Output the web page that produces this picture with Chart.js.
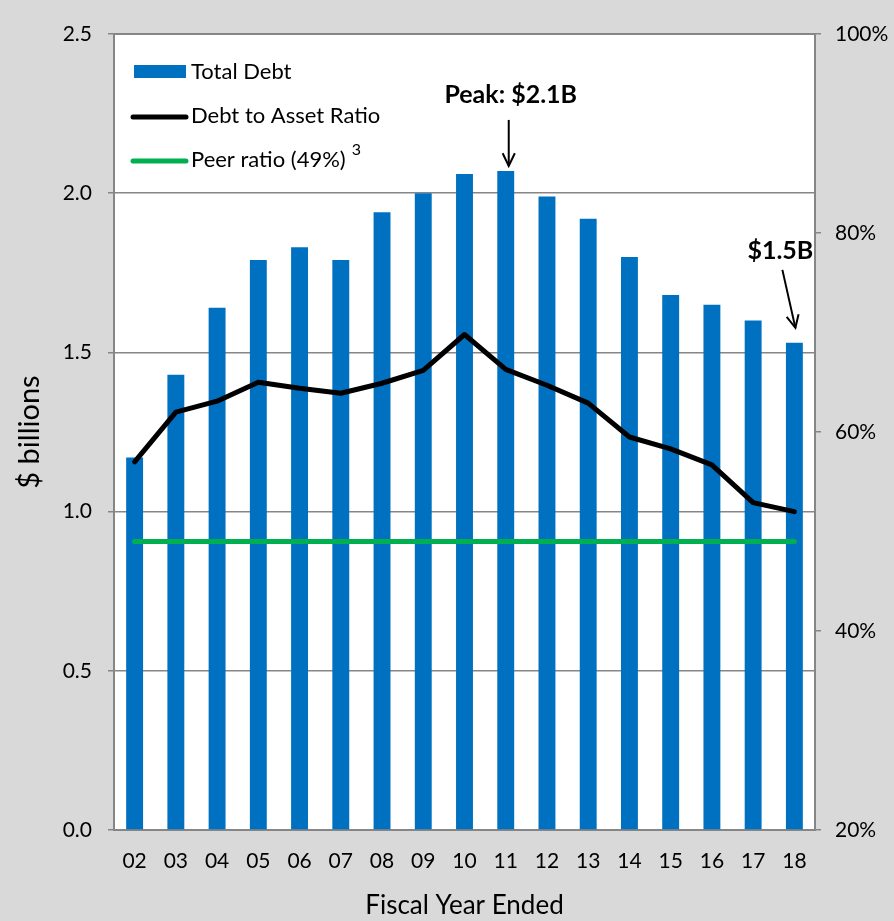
<!DOCTYPE html>
<html>
<head>
<meta charset="utf-8">
<script src="https://cdn.jsdelivr.net/npm/chart.js@4"></script>
<style>
  html, body { margin: 0; padding: 0; background: #d9d9d9; }
  #wrap { width: 894px; height: 921px; }
</style>
</head>
<body>
<div id="wrap"><canvas id="debt-chart"></canvas></div>
<script>
// Data

const years = ['02', '03', '04', '05', '06', '07', '08', '09', '10', '11', '12', '13', '14', '15', '16', '17', '18'];
const totalDebt = [1.17, 1.43, 1.64, 1.79, 1.83, 1.79, 1.94, 2.00, 2.06, 2.07, 1.99, 1.92, 1.80, 1.68, 1.65, 1.60, 1.53];
const debtToAsset = [57.0, 62.0, 63.1, 65.0, 64.4, 63.9, 64.9, 66.2, 69.8, 66.3, 64.7, 62.9, 59.5, 58.3, 56.7, 52.9, 52.0];
const peerRatio = [49, 49, 49, 49, 49, 49, 49, 49, 49, 49, 49, 49, 49, 49, 49, 49, 49];
const debtTicks = [0, 0.5, 1.0, 1.5, 2.0, 2.5];
const ratioTicks = [20, 40, 60, 80, 100];

const FONT = 'Lato, "Open Sans", sans-serif';
const GRAY = '#868686';

// Background, plot border, legend and arrows

const chartDecor = {
    id: 'chartDecor',
    beforeDraw(chart) {
        const {ctx, chartArea: a} = chart;
        ctx.save();
        ctx.fillStyle = '#d9d9d9';
        ctx.fillRect(0, 0, chart.width, chart.height);
        ctx.fillStyle = '#ffffff';
        ctx.fillRect(a.left, a.top, a.right - a.left, a.bottom - a.top);
        ctx.strokeStyle = GRAY;
        ctx.lineWidth = 2;
        ctx.strokeRect(a.left, a.top, a.right - a.left, a.bottom - a.top);
        ctx.restore();
    },
    afterDraw(chart) {
        const {ctx, chartArea: a} = chart;
        ctx.save();

        // legend
        const lx = a.left + 19, tx = a.left + 77;
        ctx.font = '22px ' + FONT;
        ctx.textBaseline = 'middle';
        ctx.fillStyle = '#0070c0';
        ctx.fillRect(lx + 1, a.top + 31, 52, 13);
        ctx.lineCap = 'round';
        ctx.lineWidth = 5;
        ctx.strokeStyle = '#000';
        ctx.beginPath(); ctx.moveTo(lx, a.top + 83); ctx.lineTo(lx + 53, a.top + 83); ctx.stroke();
        ctx.strokeStyle = '#00b050';
        ctx.beginPath(); ctx.moveTo(lx, a.top + 127); ctx.lineTo(lx + 53, a.top + 127); ctx.stroke();
        ctx.fillStyle = '#000';
        ctx.fillText('Total Debt', tx, a.top + 38);
        ctx.fillText('Debt to Asset Ratio', tx, a.top + 82);
        ctx.fillText('Peer ratio (49%)', tx, a.top + 126);
        const w = ctx.measureText('Peer ratio (49%)').width;
        ctx.font = '16px ' + FONT;
        ctx.fillText('3', tx + w + 6, a.top + 116);

        // annotations anchored to bars
        const bars = chart.getDatasetMeta(2).data;
        const drawArrow = (x1, y1, x2, y2) => {
            ctx.strokeStyle = '#000';
            ctx.lineWidth = 2;
            ctx.lineCap = 'butt';
            ctx.beginPath(); ctx.moveTo(x1, y1); ctx.lineTo(x2, y2); ctx.stroke();
            const ang = Math.atan2(y2 - y1, x2 - x1);
            const h = 14;
            ctx.beginPath();
            ctx.moveTo(x2 - h * Math.cos(ang - 0.45), y2 - h * Math.sin(ang - 0.45));
            ctx.lineTo(x2, y2);
            ctx.lineTo(x2 - h * Math.cos(ang + 0.45), y2 - h * Math.sin(ang + 0.45));
            ctx.stroke();
        };
        ctx.font = 'bold 25px ' + FONT;
        ctx.textAlign = 'center';
        ctx.fillStyle = '#000';
        const peak = bars[9];
        ctx.fillText('Peak: $2.1B', peak.x + 5, peak.y - 76);
        drawArrow(peak.x + 3, peak.y - 51, peak.x + 3, peak.y - 5);
        const last = bars[16];
        ctx.fillText('$1.5B', last.x - 14, last.y - 92);
        drawArrow(last.x - 12, last.y - 73, last.x + 1, last.y - 15);

        ctx.restore();
    }
};

const debtChart = document.getElementById('debt-chart');

new Chart(debtChart, {
    type: 'bar',
    data: {
        labels: years,
        datasets: [{
            type: 'line',
            label: 'Debt to Asset Ratio',
            data: debtToAsset,
            yAxisID: 'y1',
            borderColor: '#000',
            borderWidth: 5,
            pointRadius: 0,
            tension: 0,
            borderCapStyle: 'round',
            borderJoinStyle: 'round',
            order: 1
        }, {
            type: 'line',
            label: 'Peer ratio (49%)',
            data: peerRatio,
            yAxisID: 'y1',
            borderColor: '#00b050',
            borderWidth: 5,
            pointRadius: 0,
            borderCapStyle: 'round',
            order: 2
        }, {
            label: 'Total Debt',
            data: totalDebt,
            yAxisID: 'y',
            backgroundColor: '#0070c0',
            barPercentage: 0.41,
            categoryPercentage: 1,
            order: 3
        }]
    },
    options: {
        responsive: true,
        maintainAspectRatio: false,
        animation: false,
        layout: { padding: { top: 34, left: 0, right: 0, bottom: 0 } },
        plugins: {
            legend: { display: false },
            tooltip: { enabled: false }
        },
        scales: {
            x: {
                offset: true,
                grid: { display: false, drawTicks: false },
                border: { color: GRAY, width: 2 },
                ticks: { color: '#000', font: { family: FONT, size: 21 }, padding: 19, maxRotation: 0 },
                title: { display: true, text: 'Fiscal Year Ended', color: '#000', font: { family: FONT, size: 26 }, padding: { top: 10, bottom: 0 } },
                afterFit(scale) { scale.height = 91; }
            },
            y: {
                position: 'left',
                min: 0,
                max: 2.5,
                afterBuildTicks(scale) { scale.ticks = debtTicks.map(v => ({value: v})); },
                grid: { color: GRAY, lineWidth: 1.5, tickLength: 6 },
                border: { color: GRAY, width: 2 },
                ticks: { color: '#000', font: { family: FONT, size: 21 }, padding: 16, callback: v => v.toFixed(1) },
                title: { display: true, text: '$ billions', color: '#000', font: { family: FONT, size: 29 }, padding: { top: 12, bottom: 0 } },
                afterFit(scale) { scale.width = 114; }
            },
            y1: {
                position: 'right',
                min: 20,
                max: 100,
                afterBuildTicks(scale) { scale.ticks = ratioTicks.map(v => ({value: v})); },
                grid: { drawOnChartArea: false, color: GRAY, lineWidth: 1.5, tickLength: 6 },
                border: { color: GRAY, width: 2 },
                ticks: { color: '#000', font: { family: FONT, size: 21 }, padding: 14, callback: v => v + '%' },
                afterFit(scale) { scale.width = 79; }
            }
        }
    },
    plugins: [chartDecor]
});
</script>
</body>
</html>
